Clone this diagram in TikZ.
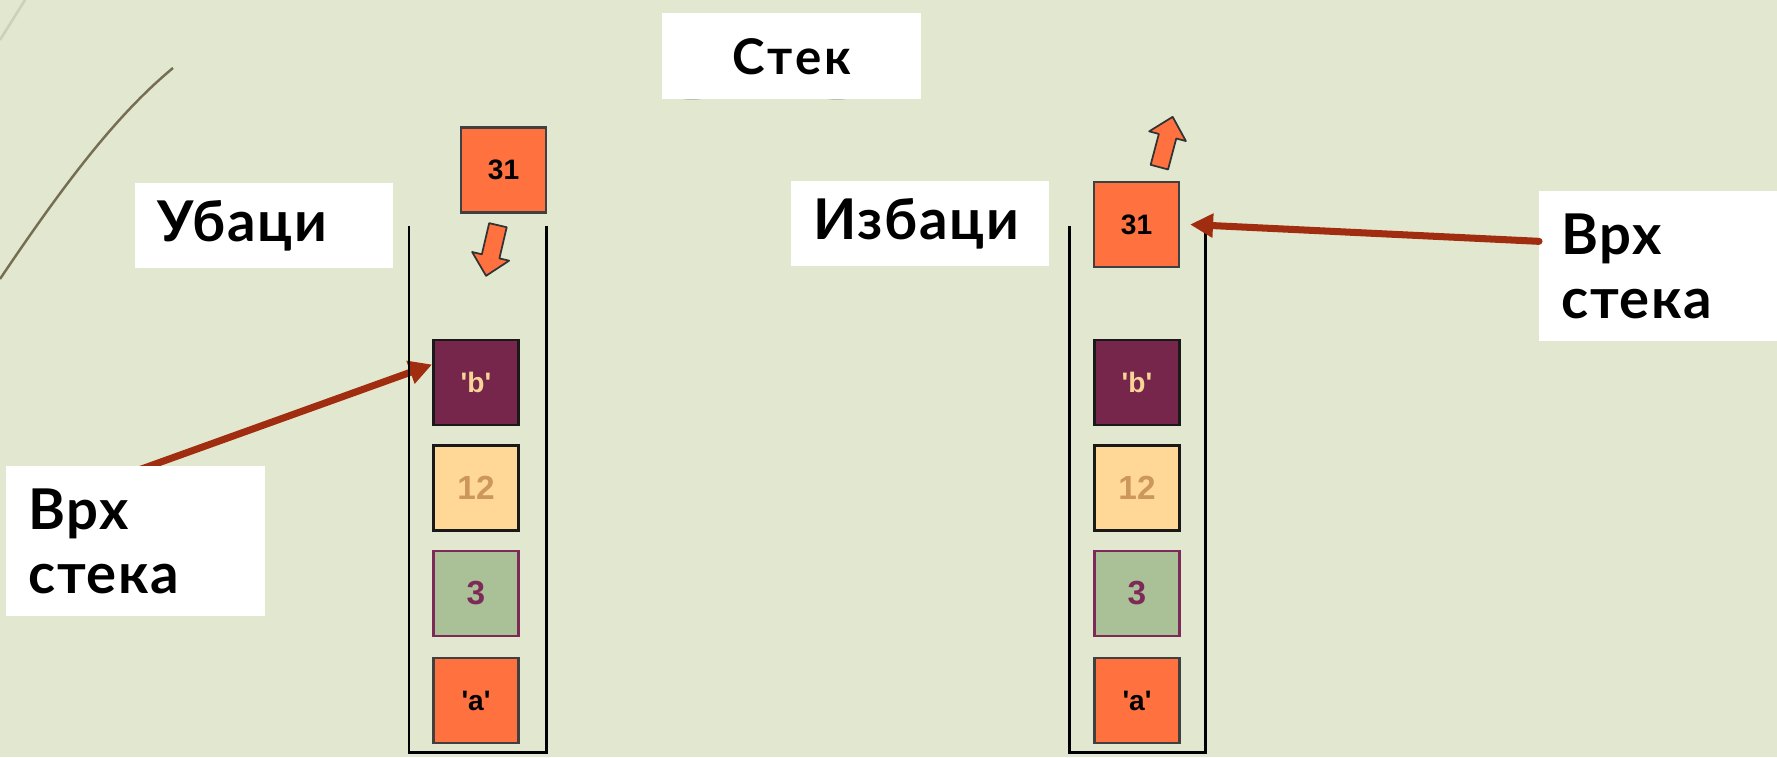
\documentclass[tikz,border=0pt]{standalone}
\usepackage{fontspec}
\setmainfont{Lato}
\newfontfamily\cellfont{Liberation Sans}[Ligatures=TeXOff]
\usetikzlibrary{arrows.meta}
\definecolor{bgcol}{RGB}{226,232,207}
\definecolor{cellorange}{RGB}{255,114,64}
\definecolor{cellplum}{RGB}{117,38,74}
\definecolor{plumtext}{RGB}{248,212,150}
\definecolor{cellpeach}{RGB}{255,215,150}
\definecolor{peachtext}{RGB}{205,150,92}
\definecolor{cellsage}{RGB}{170,192,150}
\definecolor{sageedge}{RGB}{125,42,88}
\definecolor{arrowred}{RGB}{160,45,15}
\definecolor{curvecol}{RGB}{118,110,82}
\definecolor{faintcol}{RGB}{204,208,188}
\pgfdeclarelayer{behind}
\pgfsetlayers{behind,main}

\begin{document}
\begin{tikzpicture}[x=0.02cm,y=-0.02cm,
  cell/.style={draw=black!90,line width=1.6pt,minimum size=1.7cm,inner sep=0pt,
    font=\cellfont\bfseries\fontsize{16}{18}\selectfont},
  orangecell/.style={cell,fill=cellorange,draw=black!75,line width=1.2pt},
  plumcell/.style={cell,fill=cellplum,text=plumtext},
  peachcell/.style={cell,fill=cellpeach,text=peachtext,
    font=\cellfont\bfseries\fontsize{19}{21}\selectfont},
  sagecell/.style={cell,fill=cellsage,draw=sageedge,text=sageedge,line width=1.2pt,
    font=\cellfont\bfseries\fontsize{19}{21}\selectfont},
  labelbox/.style={fill=white,anchor=north west,inner xsep=0.44cm,inner ysep=0pt,
    align=left,font=\bfseries\fontsize{32}{36}\selectfont\addfontfeature{LetterSpace=3}},
  tube/.style={line width=1.7pt,line join=miter},
  topline/.style={draw=arrowred,line width=4pt,line cap=round,
    -{Triangle[length=0.46cm,width=0.46cm]}},
  blockarrow/.style={fill=cellorange,draw=black!80,line width=1pt,line join=round}]
  \useasboundingbox
    (0,0)
    rectangle
    (1777,757);
  \begin{pgfonlayer}{behind}
  \fill[bgcol]
    (0,0)
    rectangle
    (1777,757);
  \end{pgfonlayer}
  \draw[faintcol,line width=1.5pt]
    (0,40)
    --
    (25,0);
  \draw[curvecol,line width=1.4pt]
    (0,279)
    .. controls (70,175) and (120,112) ..
    (173,68);
  \fill[gray!70,opacity=0.6]
    (692,98)
    ellipse
    [x radius=0.22cm,y radius=0.04cm];
  \fill[gray!70,opacity=0.6]
    (837,98)
    ellipse
    [x radius=0.22cm,y radius=0.04cm];
  \node[fill=white,minimum width=5.18cm,minimum height=1.72cm,anchor=north west,
    font=\bfseries\fontsize{28}{30}\selectfont\addfontfeature{LetterSpace=7}]
    (title) at (662,13) {Стек};
  \node[labelbox,text width=4.28cm,minimum height=1.7cm]
    (push) at (135,183) {Убаци};
  \node[labelbox,text width=4.28cm,minimum height=1.7cm]
    (pop) at (791,181) {Избаци};
  \draw[tube]
    (409,226)
    --
    (409,752)
    --
    (546,752)
    --
    (546,226);
  \draw[tube]
    (1069,226)
    --
    (1069,752)
    --
    (1205,752)
    --
    (1205,226);
  \node[orangecell] (l31) at (503.5,170) {31};
  \node[plumcell] (lb) at (476,382.5) {'b'};
  \node[peachcell] (l12) at (476,488) {12};
  \node[sagecell] (l3) at (476,593.5) {3};
  \node[orangecell] (la) at (476,700.5) {'a'};
  \node[orangecell] (r31) at (1136.5,224.5) {31};
  \node[plumcell] (rb) at (1137,382.5) {'b'};
  \node[peachcell] (r12) at (1137,488) {12};
  \node[sagecell] (r3) at (1137,593.5) {3};
  \node[orangecell] (ra) at (1137,700.5) {'a'};
  \begin{scope}[shift={(492,250.5)},rotate=-103.2]
    \draw[blockarrow]
      (-26,-9) -- (6,-9) -- (6,-19) -- (26,0) -- (6,19) -- (6,9) -- (-26,9) -- cycle;
  \end{scope}
  \begin{scope}[shift={(1166,142)},rotate=75.2]
    \draw[blockarrow]
      (-26,-9) -- (6,-9) -- (6,-19) -- (26,0) -- (6,19) -- (6,9) -- (-26,9) -- cycle;
  \end{scope}
  \node[labelbox,text width=3.88cm,minimum height=3cm]
    (topR) at (1539,191) {Врх\\стека};
  \draw[topline]
    ([yshift=0.5cm]topR.west)
    --
    ([xshift=0.2cm]r31.east);
  \node[labelbox,text width=4.3cm,minimum height=3cm]
    (topL) at (6,466) {Врх\\стека};
  \begin{pgfonlayer}{behind}
  \draw[topline]
    ([yshift=-0.1cm]topL.north)
    --
    ([yshift=0.36cm]lb.west);
  \end{pgfonlayer}
\end{tikzpicture}
\end{document}
